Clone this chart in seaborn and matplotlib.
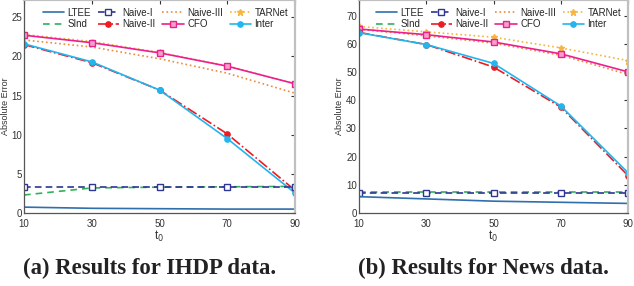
import numpy as np
import pandas as pd
import matplotlib
matplotlib.use("Agg")
import matplotlib.pyplot as plt
import seaborn as sns

sns.set_style("white")
plt.rcParams['font.family'] = ['Liberation Sans', 'DejaVu Sans']

t0 = [10, 30, 50, 70, 90]
xticks = [10, 30, 50, 70, 90]

# IHDP data
ihdp_ltee = [0.75, 0.6, 0.55, 0.5, 0.5]
ihdp_sind = [2.3, 3.2, 3.3, 3.35, 3.4]
ihdp_naive1 = [3.35, 3.35, 3.35, 3.35, 3.35]
ihdp_naive2 = [21.5, 19.2, 15.7, 10.1, 2.9]
ihdp_naive3 = [22.1, 21.2, 19.7, 17.85, 15.3]
ihdp_tarnet = [22.8, 21.9, 20.5, 18.8, 16.5]
ihdp_cfo = [22.7, 21.75, 20.45, 18.75, 16.5]
ihdp_inter = [21.6, 19.3, 15.7, 9.5, 2.55]

# News data
news_ltee = [5.8, 5.0, 4.2, 3.8, 3.4]
news_sind = [7.4, 7.4, 7.4, 7.4, 7.4]
news_naive1 = [7.0, 7.0, 7.0, 7.0, 7.0]
news_naive2 = [64.1, 59.8, 51.8, 37.6, 13.3]
news_naive3 = [65.2, 62.9, 60.3, 56.0, 49.2]
news_tarnet = [66.2, 64.3, 62.4, 58.6, 54.1]
news_cfo = [65.3, 63.3, 60.7, 56.5, 50.1]
news_inter = [64.0, 59.8, 53.1, 38.0, 14.3]

names = ["LTEE", "SInd", "Naive-I", "Naive-II", "Naive-III", "CFO", "TARNet", "Inter"]
styles = {
    "LTEE": dict(color="#2f6fad", ls="-", marker=None),
    "SInd": dict(color="#2db35a", ls=(0, (4, 3)), marker=None),
    "Naive-I": dict(color="#2e3592", ls=(0, (4, 2.5)), marker="s", mfc="white"),
    "Naive-II": dict(color="#ec1c24", ls="-.", marker="o", mfc="#ec1c24"),
    "Naive-III": dict(color="#f08a3c", ls=":", marker=None),
    "CFO": dict(color="#ec1f8e", ls="-", marker="s", mfc="#f5a0c8"),
    "TARNet": dict(color="#f5b53f", ls=":", marker="*", mfc="#f5b53f"),
    "Inter": dict(color="#22b5ee", ls="-", marker="o", mfc="#22b5ee"),
}

datasets = [
    dict(zip(names, [ihdp_ltee, ihdp_sind, ihdp_naive1, ihdp_naive2, ihdp_naive3, ihdp_cfo, ihdp_tarnet, ihdp_inter])),
    dict(zip(names, [news_ltee, news_sind, news_naive1, news_naive2, news_naive3, news_cfo, news_tarnet, news_inter])),
]
yticks = [[0, 5, 10, 15, 20, 25], [0, 10, 20, 30, 40, 50, 60, 70]]
ylims = [(0, 27.2), (0, 75.6)]
captions = ["(a) Results for IHDP data.", "(b) Results for News data."]
positions = [[24/634, 73/286, 271/634, 213/286], [359/634, 73/286, 269/634, 213/286]]
caption_x = [149.5/634, 483/634]
ylabel_x = [-0.052, -0.056]

fig = plt.figure(figsize=(6.34, 2.86), dpi=100)
draw_order = ["Naive-III", "TARNet", "CFO", "Naive-II", "Inter", "SInd", "Naive-I", "LTEE"]
for k in range(2):
    ax = fig.add_axes(positions[k])
    handles = {}
    for name in draw_order:
        st = styles[name]
        df = pd.DataFrame({"t0": t0, "err": datasets[k][name]})
        kw = dict(color=st["color"], linestyle=st["ls"], linewidth=1.2)
        if st["marker"]:
            kw.update(marker=st["marker"], markersize=3.8 if st["marker"] != "*" else 5,
                      markerfacecolor=st["mfc"], markeredgecolor=st["color"], markeredgewidth=1.0)
        sns.lineplot(data=df, x="t0", y="err", ax=ax, label=name, **kw)
        handles[name] = ax.get_lines()[-1]
    ax.set_xlim(10, 90)
    ax.set_ylim(*ylims[k])
    ax.set_xticks(xticks)
    ax.set_yticks(yticks[k])
    ax.tick_params(direction="in", length=3, width=0.8, labelsize=7, colors="#333333",
                   top=True, right=True, pad=4)
    ax.tick_params(axis="y", pad=1.5)
    for s in ["left", "bottom"]:
        ax.spines[s].set_color("#555555")
        ax.spines[s].set_linewidth(0.9)
    for s in ["top", "right"]:
        ax.spines[s].set_color("#c0c0c0")
        ax.spines[s].set_linewidth(1.6)
    ax.set_xlabel("t$_0$", fontsize=8.5, color="#333333", labelpad=0)
    ax.set_ylabel("Absolute Error", fontsize=6.5, color="#333333")
    ax.yaxis.set_label_coords(ylabel_x[k], 0.5)
    leg = ax.legend([handles[n] for n in names], names, ncol=4, loc="upper right",
                    frameon=False, fontsize=7, handlelength=2.2, columnspacing=0.7,
                    handletextpad=0.35, labelspacing=0.15, borderaxespad=0.3,
                    bbox_to_anchor=(1.0, 0.995))
    fig.text(caption_x[k], 0.062, captions[k], ha="center", va="center", fontsize=16.4,
             fontweight="bold", family="Liberation Serif", color="#222222")

fig.savefig("out.png", dpi=100)
